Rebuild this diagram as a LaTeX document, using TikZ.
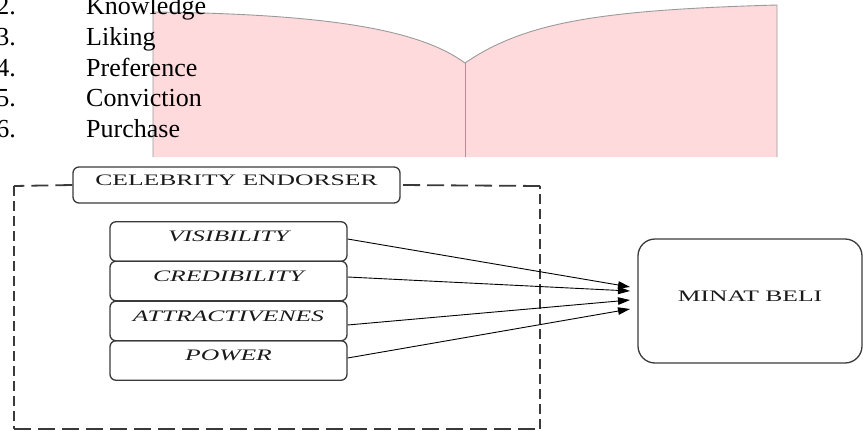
\documentclass[tikz,border=0pt]{standalone}
\usepackage{fontspec}
\setmainfont{Liberation Serif}
\usetikzlibrary{arrows.meta}
\definecolor{bookpink}{HTML}{FFDADC}
\definecolor{bookline}{HTML}{9A9A9A}
\definecolor{boxline}{HTML}{3A3A3A}
\definecolor{boxtext}{HTML}{1A1A1A}
\newcommand{\listfont}{\fontsize{26}{30}\selectfont}
\newcommand{\boxfont}{\fontsize{16}{18}\selectfont}
\newcommand{\wide}[1]{\scalebox{1.6}[1]{#1}}
\begin{document}
\begin{tikzpicture}[x=1pt,y=-1pt,
  listnum/.style={anchor=base east,inner sep=0pt,font=\listfont},
  listitem/.style={anchor=base west,inner sep=0pt,font=\listfont},
  roundbox/.style={draw=boxline,line width=1.3pt,rounded corners=6pt,text=boxtext,
    font=\boxfont,text height=10pt,text depth=10pt,inner sep=0pt},
  factor/.style={roundbox,minimum width=237pt,minimum height=39.5pt},
  hdash/.style={draw=boxline,line width=1.8pt,dash pattern=on 17pt off 7pt},
  vdash/.style={draw=boxline,line width=2.4pt,dash pattern=on 10pt off 5pt},
  link/.style={draw=black,line width=0.9pt,-{Triangle[length=12pt,width=7.5pt]}}]
\useasboundingbox (0,0) rectangle (863,431);
\clip (0,0) rectangle (863,431);
% open book shape
\fill[bookpink] (153,12) .. controls (330,14) and (420,30) .. (465,63)
  .. controls (525,22) and (600,10) .. (777,5) -- (777,157) -- (153,157) -- cycle;
\draw[bookline,line width=0.9pt] (153,157) -- (153,12) .. controls (330,14) and (420,30) .. (465,63)
  .. controls (525,22) and (600,10) .. (777,5) -- (777,157);
\draw[bookline,line width=0.9pt] (465,63) -- (465,157);
% list
\foreach \n/\t/\y in {2/Knowledge/15,3/Liking/45.5,4/Preference/76,5/Conviction/106.5,6/Purchase/137}{
  \node[listnum] (num\n) at (16,\y) {\n.};
  \node[listitem] (item\n) at (86,\y) {\t};
}
% celebrity endorser frame
\node[roundbox,minimum width=327pt,minimum height=36pt] (ce) at (236.5,185) {\wide{CELEBRITY ENDORSER}};
\coordinate (tl) at (14,186);
\coordinate (bl) at (14,429);
\coordinate (br) at (540,429);
\coordinate (tr) at (540,186);
\draw[hdash] (ce.west) -- (tl);
\draw[vdash] (tl) -- (bl);
\draw[hdash] (bl) -- (br);
\draw[vdash] (br) -- (tr);
\draw[hdash] (tr) -- (ce.east);
% factors
\node[factor] (vis) at (228.5,241.5) {\wide{\itshape VISIBILITY}};
\node[factor] (cred) at (228.5,281) {\wide{\itshape CREDIBILITY}};
\node[factor] (attr) at (228.5,321) {\wide{\itshape ATTRACTIVENES}};
\node[factor] (pow) at (228.5,360.5) {\wide{\itshape POWER}};
% outcome
\node[roundbox,rounded corners=17pt,minimum width=224pt,minimum height=124pt] (minat) at (750,301) {\wide{MINAT BELI}};
\coordinate (e1) at (630,287);
\coordinate (e2) at (630,291);
\coordinate (e3) at (630,300);
\coordinate (e4) at (630,309);
\draw[link] ([yshift=2.5pt]vis.east) -- (e1);
\draw[link] ([yshift=4pt]cred.east) -- (e2);
\draw[link] ([yshift=-4pt]attr.east) -- (e3);
\draw[link] ([yshift=2.5pt]pow.east) -- (e4);
\end{tikzpicture}
\end{document}
